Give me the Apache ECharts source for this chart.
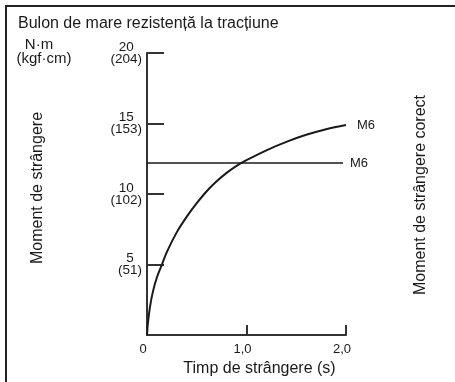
<!DOCTYPE html>
<html>
<head>
<meta charset="utf-8">
<script src="https://cdn.jsdelivr.net/npm/echarts@6/dist/echarts.min.js"></script>
<style>html,body{margin:0;padding:0;background:#fff}#c{width:455px;height:382px}</style>
</head>
<body>
<div id="c"></div>
<script>
var titleText = 'Bulon de mare rezistență la tracțiune';
var unitTop = 'N·m';
var unitBottom = '(kgf·cm)';
var yAxisTitle = 'Moment de strângere';
var rightTitle = 'Moment de strângere corect';
var xAxisTitle = 'Timp de strângere (s)';
var yTicksNm = [0, 5, 10, 15, 20];
var yTicksKgf = ['', '(51)', '(102)', '(153)', '(204)'];
var xTickLabels = {0: '0', 1: '1,0', 2: '2,0'};
var curveTime = [0, 0.01, 0.03, 0.06, 0.1, 0.15, 0.2, 0.3, 0.4, 0.5, 0.6, 0.7, 0.8, 0.9, 1.0, 1.2, 1.4, 1.6, 1.8, 2.0];
var curveTorque = [0, 0.9, 2.0, 3.1, 4.1, 5.0, 5.9, 7.3, 8.4, 9.35, 10.2, 10.9, 11.5, 12.0, 12.4, 13.1, 13.7, 14.2, 14.6, 14.9];
var correctTime = [0, 1.97];
var correctTorque = [12.2, 12.2];
var seriesLabel = 'M6';

var chart = echarts.init(document.getElementById('c'));
var font = 'Liberation Sans, Arial, sans-serif';
var ink = '#1a1a1a';
function pairs(xs, ys){ return xs.map(function(x,i){ return [x, ys[i]]; }); }

chart.setOption({
  animation: false,
  backgroundColor: '#fff',
  textStyle: {fontFamily: font, color: ink},
  grid: {left: 147, top: 53, right: 109, bottom: 44, containLabel: false},
  xAxis: {
    type: 'value', min: 0, max: 2, interval: 1,
    name: xAxisTitle, nameLocation: 'middle', nameGap: 24,
    nameTextStyle: {fontSize: 16, color: ink, fontFamily: font, padding: [0, 0, 0, 26]},
    axisLine: {lineStyle: {color: '#333', width: 2}},
    axisTick: {inside: true, length: 10, lineStyle: {color: '#333', width: 2}},
    axisLabel: {margin: 8, fontSize: 13, color: ink, fontFamily: font, padding: [0, 8, 0, 0],
      formatter: function(v){ return xTickLabels[v] !== undefined ? xTickLabels[v] : ''; }},
    splitLine: {show: false}
  },
  yAxis: {
    type: 'value', min: 0, max: 20, interval: 5,
    axisLine: {show: true, lineStyle: {color: '#333', width: 2}},
    axisTick: {show: true, inside: true, length: 17, lineStyle: {color: '#333', width: 2}},
    axisLabel: {margin: 5, fontSize: 13.5, color: ink, fontFamily: font, lineHeight: 12,
      formatter: function(v){
        var i = yTicksNm.indexOf(v);
        if (i <= 0) return '';
        return '{a|' + v + '}\n{b|' + yTicksKgf[i] + '}';
      },
      rich: {
        a: {fontSize: 13.5, lineHeight: 12, align: 'center', fontFamily: font, color: ink},
        b: {fontSize: 13.5, lineHeight: 12, align: 'center', fontFamily: font, color: ink}
      }
    },
    splitLine: {show: false}
  },
  series: [
    {
      type: 'line', data: pairs(curveTime, curveTorque), smooth: 0.35, showSymbol: false,
      lineStyle: {color: ink, width: 2},
      endLabel: {show: true, formatter: seriesLabel, distance: 11, fontSize: 13, color: ink, fontFamily: font}
    },
    {
      type: 'line', data: pairs(correctTime, correctTorque), showSymbol: false,
      lineStyle: {color: ink, width: 1.5},
      endLabel: {show: true, formatter: seriesLabel, distance: 7, fontSize: 13, color: ink, fontFamily: font}
    }
  ],
  graphic: [
    {type: 'polyline', shape: {points: [[6, 382], [6, 6], [455, 6]]}, style: {stroke: '#222', lineWidth: 2, fill: null}},
    {type: 'text', left: 18, top: 16, style: {text: titleText, font: '16px ' + font, fill: ink}},
    {type: 'text', x: 39, y: 45, style: {text: unitTop, font: '15px ' + font, fill: ink, align: 'center', verticalAlign: 'middle'}},
    {type: 'text', x: 44, y: 59, style: {text: unitBottom, font: '15px ' + font, fill: ink, align: 'center', verticalAlign: 'middle'}},
    {type: 'text', x: 38, y: 188, rotation: Math.PI / 2, style: {text: yAxisTitle, font: '16px ' + font, fill: ink, align: 'center', verticalAlign: 'middle'}},
    {type: 'text', x: 421, y: 195, rotation: Math.PI / 2, style: {text: rightTitle, font: '16px ' + font, fill: ink, align: 'center', verticalAlign: 'middle'}}
  ]
});
</script>
</body>
</html>
